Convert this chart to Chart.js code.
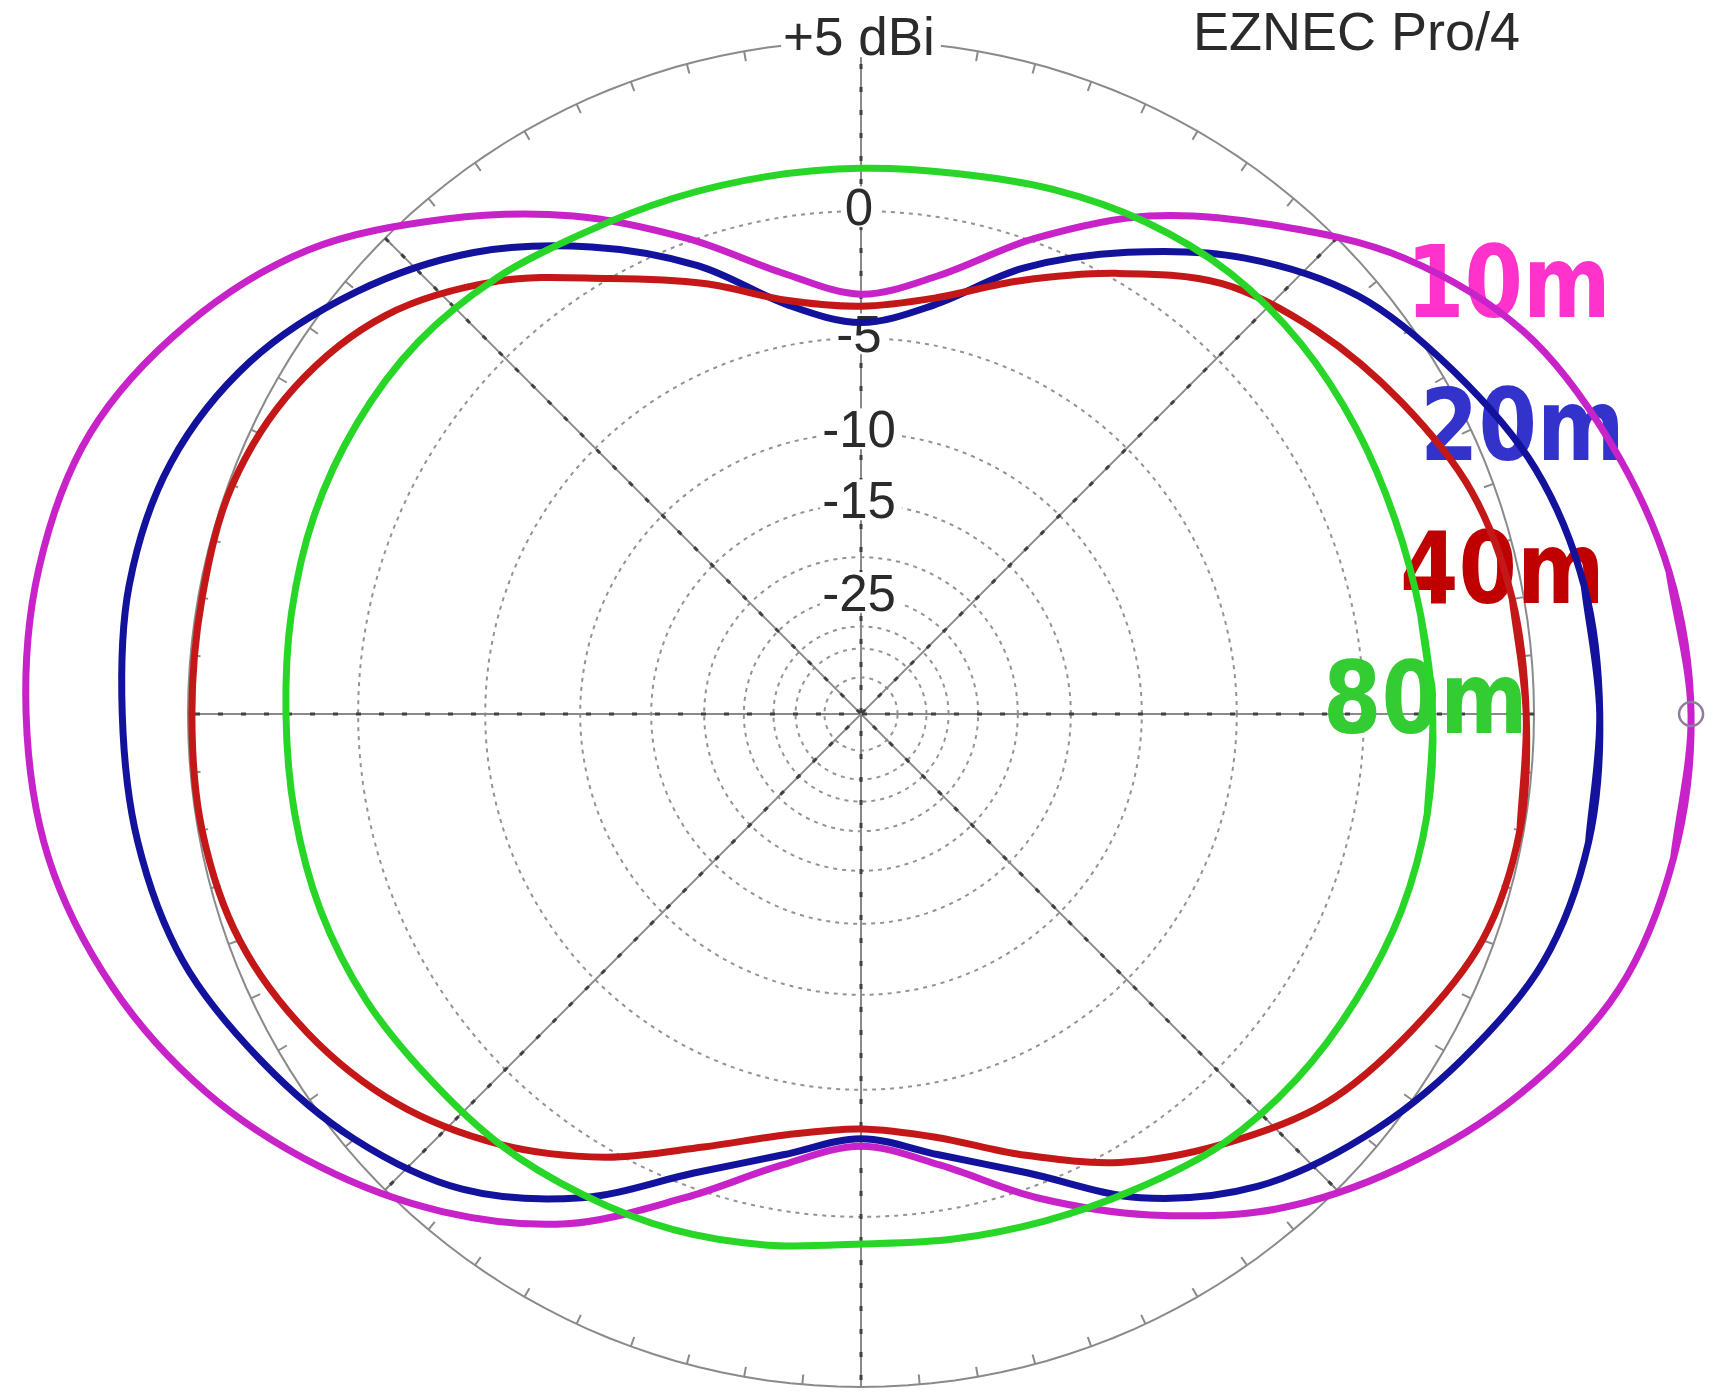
<!DOCTYPE html>
<html>
<head>
<meta charset="utf-8">
<title>EZNEC Pro/4 – 10/20/40/80 m patterns</title>
<script src="https://cdn.jsdelivr.net/npm/chart.js@4.4.1/dist/chart.umd.min.js"></script>
<style>
  html, body { margin: 0; padding: 0; background: #fff; }
  #wrap { width: 1717px; height: 1397px; }
</style>
</head>
<body>
<div id="wrap"><canvas id="polar" width="1717" height="1397"></canvas></div>
<script>
// ── Data ──────────────────────────────────────────────────────────────────────
// azimuth in degrees (0 = right, counter-clockwise), gain in dBi
const ANGLES = [0, 10, 20, 30, 40, 50, 60, 70, 80, 90, 100, 110, 120, 130, 140, 150, 160, 170,
                180, 190, 200, 210, 220, 230, 240, 250, 260, 270, 280, 290, 300, 310, 320, 330, 340, 350];

const GAIN_10M = [8.6, 8.4, 7.9, 7.2, 5.9, 4.1, 2.3, 0.1, -2.1, -3.1, -2.0, 0.1, 2.3, 4.3, 6.2, 7.5, 8.4, 8.7,
                  8.7, 8.5, 7.9, 7.0, 5.8, 4.4, 2.7, 0.4, -1.6, -2.6, -1.6, 0.4, 2.4, 4.3, 5.8, 7.1, 8.1, 8.5];
const GAIN_20M = [6.6, 6.5, 6.1, 5.3, 4.4, 2.9, 1.0, -1.0, -3.3, -4.3, -3.3, -0.9, 1.2, 3.1, 4.6, 5.8, 6.5, 6.7,
                  6.6, 6.5, 6.2, 5.5, 4.7, 3.6, 1.8, -0.5, -2.0, -2.9, -2.0, -0.5, 1.8, 3.5, 4.6, 5.5, 6.3, 6.6];
const GAIN_40M = [4.8, 4.7, 4.4, 3.7, 2.9, 1.9, 0.2, -1.5, -3.0, -3.6, -3.1, -1.6, 0.0, 2.0, 3.6, 4.5, 4.9, 4.9,
                  4.9, 4.9, 4.7, 4.1, 3.2, 1.9, 0.3, -1.5, -2.8, -3.3, -2.7, -1.2, 0.5, 1.9, 3.2, 4.0, 4.7, 4.9];
const GAIN_80M = [2.2, 2.1, 2.1, 2.2, 2.3, 2.3, 2.1, 1.8, 1.5, 1.4, 1.4, 1.5, 1.7, 2.1, 2.4, 2.5, 2.5, 2.4,
                  2.3, 2.3, 2.3, 2.2, 2.0, 1.9, 1.7, 1.5, 1.2, 0.9, 1.0, 1.2, 1.5, 1.9, 2.1, 2.2, 2.3, 2.3];

const BAND_LABELS = ['10m', '20m', '40m', '80m'];

// max-gain marker
const MARK_ANGLE = [0];
const MARK_GAIN  = [8.6];

// grid (ARRL log scale)
const OUTER_DB      = 5;
const OUTER_LABEL   = '+5 dBi';
const RING_DB       = [0, -5, -10, -15, -20, -25, -30, -35, -45];
const RING_LABEL_DB = [0, -5, -10, -15, -25];
const RING_LABELS   = ['0', '-5', '-10', '-15', '-25'];
const SPOKE_ANGLES  = [0, 45, 90, 135];
const TITLE         = 'EZNEC Pro/4';

// ── Layout / style ────────────────────────────────────────────────────────────
const W = 1717, H = 1397;
const CX = 861, CY = 714, R = 673;          // centre + radius of the +5 dBi circle, px
const TICK_STEP = 5, TICK_LEN = 10 / R;

const CURVE_COLORS = ['#c823c8', '#12129c', '#c41818', '#28d628'];
const TEXT_COLORS  = ['#ff33cc', '#3333cc', '#c00000', '#33cc33'];
const BAND_POS     = [[1406, 317], [1420, 460], [1400, 603], [1323, 733]];  // left, baseline
const SANS = '"Liberation Sans", Arial, sans-serif';

// ── Helpers ───────────────────────────────────────────────────────────────────
const rad   = d => d * Math.PI / 180;
const arrl  = db => Math.pow(0.89, (OUTER_DB - db) / 2);    // dB -> radius (1 = outer ring)
const atR   = (deg, r) => ({ x: r * Math.cos(rad(deg)), y: r * Math.sin(rad(deg)) });
const atDb  = (deg, db) => atR(deg, arrl(db));
const GAP   = { x: null, y: null };

// closed trace; one extra sample on each side so the spline has no seam at 0°
function trace(gains) {
  const n = ANGLES.length, pts = [];
  for (let i = -1; i <= n + 1; i++) {
    const k = (i + n) % n;
    pts.push(atDb(ANGLES[k] + Math.floor(i / n) * 360, gains[k]));
  }
  return pts;
}

function ring(db) {
  const pts = [];
  for (let a = 0; a <= 360; a += 2) pts.push(atDb(a, db));
  return pts;
}

function spokes() {
  const pts = [];
  SPOKE_ANGLES.forEach(a => { pts.push(atR(a, 1), atR(a + 180, 1), GAP); });
  return pts;
}

function ticks() {
  const pts = [];
  for (let a = 0; a < 360; a += TICK_STEP) pts.push(atR(a, 1), atR(a, 1 - TICK_LEN), GAP);
  return pts;
}

const gridLine = (data, color, width, dash) => ({
  data, showLine: true, borderColor: color, borderWidth: width, borderDash: dash || [],
  pointRadius: 0, tension: 0, order: 5, spanGaps: false, fill: false
});

// tension 1/3 ~ uniform Catmull-Rom, keeps the arcs round between samples
const curve = (label, gains, color, order) => ({
  label, data: trace(gains), showLine: true, borderColor: color, borderWidth: 7,
  pointRadius: 0, tension: 0.33, order, fill: false
});

// ── Datasets ──────────────────────────────────────────────────────────────────
const datasets = [
  {
    label: 'max', data: MARK_ANGLE.map((a, i) => atDb(a, MARK_GAIN[i])), showLine: false,
    pointRadius: 12, pointBorderWidth: 2.5, pointBorderColor: '#907c9c',
    pointBackgroundColor: 'rgba(0,0,0,0)', order: 0
  },
  curve(BAND_LABELS[3], GAIN_80M, CURVE_COLORS[3], 1),
  curve(BAND_LABELS[2], GAIN_40M, CURVE_COLORS[2], 2),
  curve(BAND_LABELS[1], GAIN_20M, CURVE_COLORS[1], 3),
  curve(BAND_LABELS[0], GAIN_10M, CURVE_COLORS[0], 4),
  gridLine(spokes(), '#404040', 3, [5, 18]),
  gridLine(spokes(), '#8a8a8a', 2),
  gridLine(ring(OUTER_DB), '#8a8a8a', 2),
  gridLine(ticks(), '#8a8a8a', 2),
].concat(RING_DB.map(db => gridLine(ring(db), '#939393', 2, [4, 5])));

// ── Text drawing ──────────────────────────────────────────────────────────────
function drawRingLabels(chart) {
  const ctx = chart.ctx;
  const px = chart.scales.x.getPixelForValue(0);
  const items = [[OUTER_LABEL, OUTER_DB, 53]].concat(RING_LABEL_DB.map((db, i) => [RING_LABELS[i], db, 51]));
  ctx.save();
  ctx.textAlign = 'center';
  ctx.textBaseline = 'alphabetic';
  items.forEach(([txt, db, size]) => {
    const py = chart.scales.y.getPixelForValue(arrl(db));
    ctx.font = size + 'px ' + SANS;
    const w = ctx.measureText(txt).width;
    const base = py + 14;
    ctx.fillStyle = '#fff';
    ctx.fillRect(px - w / 2 - 4, base - size * 0.76, w + 8, size * 0.8);
    ctx.fillStyle = '#2b2b2b';
    ctx.fillText(txt, px - 2, base);
  });
  ctx.restore();
}

function drawBandLabels(chart) {
  const ctx = chart.ctx;
  BAND_LABELS.forEach((t, i) => {
    const [lx, by] = BAND_POS[i];
    ctx.save();
    ctx.translate(lx, by);
    ctx.scale(0.85, 1);
    ctx.font = 'bold 99px "DejaVu Sans", Verdana, sans-serif';
    ctx.fillStyle = TEXT_COLORS[i];
    ctx.textAlign = 'left';
    ctx.textBaseline = 'alphabetic';
    ctx.fillText(t, 0, 0);
    ctx.restore();
  });
}

const paperPlugin = {
  id: 'paper',
  beforeDraw(chart) {
    const c = chart.ctx;
    c.save();
    c.fillStyle = '#fff';
    c.fillRect(0, 0, chart.width, chart.height);
    c.restore();
  }
};

const textPlugin = {
  id: 'texts',
  beforeDatasetDraw(chart, args) {
    // right before the first pattern trace: grid is done, traces still to come
    if (chart.data.datasets[args.index].label !== BAND_LABELS[0]) return;
    drawRingLabels(chart);
    drawBandLabels(chart);
  },
  afterDraw(chart) {
    const ctx = chart.ctx;
    ctx.save();
    ctx.font = '54px ' + SANS;
    ctx.fillStyle = '#2a2a2a';
    ctx.textAlign = 'left';
    ctx.textBaseline = 'alphabetic';
    ctx.fillText(TITLE, 1193, 50);
    ctx.restore();
  }
};

// ── Chart ─────────────────────────────────────────────────────────────────────
new Chart(document.getElementById('polar'), {
  type: 'scatter',
  data: { datasets },
  options: {
    responsive: false,
    devicePixelRatio: 1,
    animation: false,
    events: [],
    clip: false,
    layout: { padding: 0, autoPadding: false },
    plugins: { legend: { display: false }, tooltip: { enabled: false } },
    scales: {
      x: { type: 'linear', display: false, min: -CX / R, max: (W - CX) / R },
      y: { type: 'linear', display: false, min: -(H - CY) / R, max: CY / R }
    }
  },
  plugins: [paperPlugin, textPlugin]
});
</script>
</body>
</html>
